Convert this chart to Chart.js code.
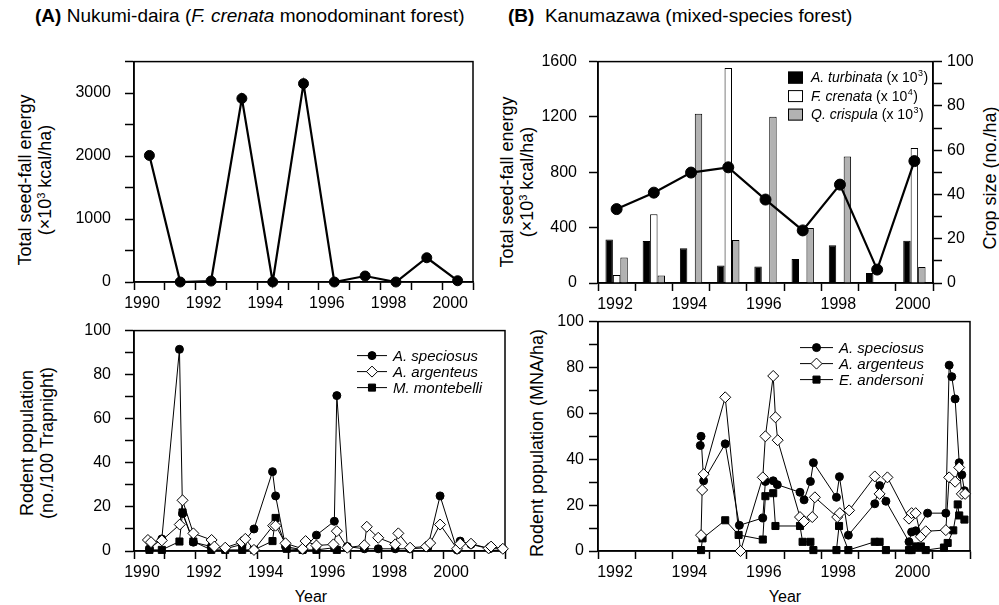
<!DOCTYPE html>
<html>
<head>
<meta charset="utf-8">
<script src="https://cdn.jsdelivr.net/npm/chart.js@4.4.1/dist/chart.umd.min.js"></script>
<style>
  html, body { margin: 0; padding: 0; background: #fff; }
  body { width: 999px; height: 605px; position: relative; overflow: hidden;
         font-family: "Liberation Sans", Arial, Helvetica, sans-serif; color: #000; }
  canvas { position: absolute; }
  .txt { position: absolute; white-space: nowrap; font-size: 17px; line-height: 20px; }
  .rot { position: absolute; transform: rotate(-90deg); text-align: center;
         font-size: 18px; line-height: 20px; white-space: nowrap; }
  sup { font-size: 11px; line-height: 0; vertical-align: 0; position: relative; top: -6px; }
</style>
</head>
<body>
<div class="txt" style="left:35px;top:6px;font-size:19px"><b>(A)</b> Nukumi-daira (<i>F. crenata</i> monodominant forest)</div>
<div class="txt" style="left:508px;top:6px;font-size:19px"><b>(B)</b>&nbsp; Kanumazawa (mixed-species forest)</div>

<div class="rot" style="left:-95px;top:160px;width:260px;height:40px">Total seed-fall energy<br>(×10<sup>3</sup> kcal/ha)</div>
<div class="rot" style="left:387px;top:162px;width:260px;height:40px">Total seed-fall energy<br>(×10<sup>3</sup> kcal/ha)</div>
<div class="rot" style="left:890px;top:168px;width:200px;height:20px">Crop size (no./ha)</div>
<div class="rot" style="left:-93px;top:423px;width:260px;height:40px">Rodent population<br>(no./100 Trapnight)</div>
<div class="rot" style="left:407px;top:433px;width:260px;height:20px">Rodent population (MNA/ha)</div>
<div class="txt" style="left:281px;top:587px;width:60px;text-align:center;font-size:16px">Year</div>
<div class="txt" style="left:755px;top:587px;width:60px;text-align:center;font-size:16px">Year</div>

<script>
// ---- data ----
// (A) Nukumi-daira, total seed-fall energy (x10^3 kcal/ha), one value per year
const nukumiYears = [1990, 1991, 1992, 1993, 1994, 1995, 1996, 1997, 1998, 1999, 2000];
const nukumiEnergy = [2010, 0, 15, 2915, 0, 3150, 0, 95, 0, 385, 20];

// (B) Kanumazawa
const kanuYears = [1992, 1993, 1994, 1995, 1996, 1997, 1998, 1999, 2000];
const kanuEnergy = [534, 653, 798, 836, 603, 380, 711, 97, 881];
const cropTurbinata = [19.6, 19.0, 15.7, 7.9, 7.5, 10.8, 17.0, 4.5, 19.1];
const cropCrenata = [3.6, 31.1, 0, 97.1, 0, 0, 0, 0, 61.0];
const cropCrispula = [11.5, 3.4, 76.5, 19.4, 75.1, 24.8, 57.1, 0, 7.2];

// rodents, [time (year), value]
const nukumiSpeciosus = [[1990.5, 1], [1990.9, 5.5], [1991.47, 91.5], [1991.57, 17], [1991.92, 4],
  [1992.5, 2], [1992.95, 1], [1993.5, 3], [1993.88, 10], [1994.48, 36], [1994.58, 25], [1994.9, 2],
  [1995.47, 0.5], [1995.9, 7.2], [1996.48, 13.5], [1996.56, 70.5], [1996.9, 2], [1997.45, 1],
  [1997.9, 1], [1998.45, 1], [1998.92, 1], [1999.5, 1.5], [1999.9, 25], [2000.45, 0.5],
  [2000.55, 4.5], [2000.9, 3], [2001.5, 1], [2001.93, 1]];
const nukumiArgenteus = [[1990.45, 5], [1990.55, 4], [1990.9, 4.8], [1991.48, 12], [1991.57, 23],
  [1991.92, 8], [1992.51, 5], [1992.6, 2], [1992.95, 1.5], [1993.48, 4], [1993.6, 5.5], [1993.88, 0.5],
  [1994.5, 11.5], [1994.58, 11.5], [1994.9, 3.5], [1995.45, 1], [1995.55, 4.5], [1995.9, 2.5],
  [1996.45, 3], [1996.56, 9], [1996.9, 1.5], [1997.45, 2.6], [1997.53, 11], [1997.9, 6],
  [1998.45, 3], [1998.55, 8], [1998.93, 1.5], [1999.45, 2], [1999.58, 3.6], [1999.9, 12],
  [2000.45, 1], [2000.55, 3.3], [2000.9, 3.3], [2001.47, 1.2], [2001.55, 2], [2001.93, 1]];
const nukumiMontebelli = [[1990.5, 0.5], [1990.9, 0.5], [1991.47, 4.3], [1991.57, 17.5], [1991.92, 4.3],
  [1992.5, 0.5], [1992.95, 0.5], [1993.5, 0.5], [1993.88, 0.5], [1994.48, 4.5], [1994.58, 15],
  [1994.94, 1], [1995.45, 0.5], [1995.9, 0.5], [1996.48, 1.5], [1996.56, 0.5]];

const kanuSpeciosus = [[1994.75, 46], [1994.77, 50], [1994.84, 30.6], [1995.42, 46.7], [1995.8, 11.2],
  [1996.43, 14.4], [1996.5, 30.3], [1996.71, 30.6], [1996.82, 28.9], [1997.43, 25.6], [1997.54, 22.3],
  [1997.71, 30.3], [1997.79, 38.5], [1998.41, 23.4], [1998.49, 32.4], [1998.73, 6.9], [1999.44, 20.6],
  [1999.57, 28.5], [1999.74, 21.7], [2000.36, 4], [2000.43, 8.3], [2000.54, 8.8], [2000.86, 16.5],
  [2001.35, 16.5], [2001.44, 81], [2001.51, 76], [2001.6, 66.3], [2001.71, 38.5], [2001.78, 33.2],
  [2001.85, 26.3]];
const kanuArgenteus = [[1994.77, 6.9], [1994.8, 26.6], [1994.84, 33.5], [1995.42, 67], [1995.83, 0],
  [1996.43, 32.1], [1996.5, 50], [1996.71, 76.3], [1996.77, 58.3], [1996.83, 48.3], [1997.43, 14.8],
  [1997.54, 12.9], [1997.76, 14.8], [1997.83, 23.4], [1998.43, 14.8], [1998.5, 16.5], [1998.75, 17.7],
  [1999.44, 32.5], [1999.57, 24.9], [1999.78, 32.1], [2000.36, 14.1], [2000.43, 16.5], [2000.54, 16.5],
  [2000.68, 6.2], [2000.81, 8.6], [2001.35, 9.1], [2001.44, 32.1], [2001.6, 30.2], [2001.71, 36.4],
  [2001.78, 24.9], [2001.87, 24.9]];
const kanuAndersoni = [[1994.77, 0.4], [1994.81, 5.5], [1995.42, 13.4], [1995.78, 7], [1996.43, 5],
  [1996.5, 23.9], [1996.71, 25.2], [1996.77, 10.9], [1997.43, 10.9], [1997.5, 4], [1997.71, 4],
  [1997.79, 0.4], [1998.41, 0.4], [1998.48, 10.9], [1998.73, 0.4], [1999.44, 4], [1999.57, 4],
  [1999.74, 0.4], [2000.36, 0.4], [2000.43, 0.4], [2000.54, 2], [2000.68, 2], [2000.81, 0.4],
  [2001.3, 1.5], [2001.4, 3.5], [2001.55, 9], [2001.67, 20.3], [2001.71, 15.5], [2001.85, 13.7]];

// ---- layout ----
const PAD_L = 90, PAD_T = 12, PAD_B = 40;
const FONT = '"Liberation Sans", Arial, Helvetica, sans-serif';

Chart.defaults.font.family = FONT;
Chart.defaults.font.size = 16;
Chart.defaults.color = '#000';
Chart.defaults.animation = false;
Chart.defaults.plugins.legend.display = false;
Chart.defaults.plugins.tooltip.enabled = false;

function makeCanvas(box, rightW) {
  const c = document.createElement('canvas');
  const w = box.r - box.l + PAD_L + rightW, h = box.b - box.t + PAD_T + PAD_B;
  c.width = w; c.height = h;
  c.style.width = w + 'px'; c.style.height = h + 'px';
  c.style.left = (box.l - PAD_L) + 'px';
  c.style.top = (box.t - PAD_T) + 'px';
  document.body.appendChild(c);
  return c;
}

function xAxis(min, max, labelOffset) {
  return {
    type: 'linear', min, max, offset: false,
    afterFit: s => { s.height = PAD_B; },
    border: { color: '#000', width: 1.5 },
    grid: { drawOnChartArea: false, tickLength: 8, tickWidth: 1.5, tickColor: '#000', offset: false },
    ticks: { stepSize: 1, autoSkip: false, maxRotation: 0, padding: 4, labelOffset,
      callback: v => (v % 2 === 0 && v <= 2000 ? String(v) : '') }
  };
}

function yAxis(max, step, every, padding, width, position) {
  return {
    type: 'linear', position: position || 'left', min: 0, max,
    afterFit: s => { s.width = width; },
    border: { color: '#000', width: 1.5 },
    grid: { drawOnChartArea: false, tickLength: 9, tickWidth: 1.5, tickColor: '#000' },
    ticks: { stepSize: step, autoSkip: false, padding,
      callback: v => (v % every === 0 ? String(v) : '') }
  };
}

function series(label, pts, style, r, fill, order, width) {
  return {
    label, data: pts.map(p => ({ x: p[0], y: p[1] })),
    borderColor: '#000', borderWidth: width || 1, tension: 0,
    pointStyle: style, pointRadius: r, pointBorderWidth: 1,
    pointBackgroundColor: fill, pointBorderColor: '#000', order, clip: false
  };
}

// box around the plot area
Chart.register({
  id: 'frame',
  beforeDatasetsDraw(chart) {
    const { ctx, chartArea: a } = chart;
    ctx.save();
    ctx.strokeStyle = '#000';
    ctx.lineWidth = 1.5;
    ctx.strokeRect(a.left, a.top, a.right - a.left, a.bottom - a.top);
    ctx.restore();
  }
});

function marker(ctx, style, x, y, r) {
  ctx.beginPath();
  if (style === 'circle') ctx.arc(x, y, r, 0, Math.PI * 2);
  else if (style === 'rectRot') { ctx.moveTo(x - r, y); ctx.lineTo(x, y - r); ctx.lineTo(x + r, y); ctx.lineTo(x, y + r); ctx.closePath(); }
  else { const s = r * Math.SQRT1_2; ctx.rect(x - s, y - s, 2 * s, 2 * s); }
  ctx.fill();
  ctx.stroke();
}

// legend: short line with marker and italic name
function lineLegend(x0, y0, dy, len) {
  return {
    id: 'lineLegend',
    afterDraw(chart) {
      const { ctx, chartArea: a } = chart;
      ctx.save();
      chart.data.datasets.forEach((ds, i) => {
        const x = a.left + x0, y = a.top + y0 + i * dy;
        ctx.strokeStyle = '#000'; ctx.lineWidth = 1;
        ctx.beginPath(); ctx.moveTo(x, y); ctx.lineTo(x + len, y); ctx.stroke();
        ctx.fillStyle = ds.pointBackgroundColor;
        marker(ctx, ds.pointStyle, x + len / 2, y, ds.pointRadius);
        ctx.fillStyle = '#000';
        ctx.font = 'italic 15px ' + FONT;
        ctx.textBaseline = 'middle';
        ctx.fillText(ds.label, x + len + 6, y + 1);
      });
      ctx.restore();
    }
  };
}

// legend: boxes for the bar series, "name (x10^n)"
function barLegend(x0, y0, dy) {
  return {
    id: 'barLegend',
    afterDraw(chart) {
      const { ctx, chartArea: a } = chart;
      ctx.save();
      chart.data.datasets.filter(ds => ds.type === 'bar').forEach((ds, i) => {
        const x = a.left + x0, y = a.top + y0 + i * dy;
        ctx.fillStyle = ds.backgroundColor; ctx.strokeStyle = '#000'; ctx.lineWidth = 1;
        ctx.fillRect(x, y - 6, 15, 12); ctx.strokeRect(x + 0.5, y - 5.5, 14, 11);
        ctx.fillStyle = '#000';
        ctx.textBaseline = 'middle';
        let tx = x + 23;
        ctx.font = 'italic 14px ' + FONT;
        ctx.fillText(ds.label, tx, y + 1); tx += ctx.measureText(ds.label).width;
        ctx.font = '14px ' + FONT;
        ctx.fillText(' (x 10', tx, y + 1); tx += ctx.measureText(' (x 10').width;
        ctx.font = '9px ' + FONT;
        ctx.fillText(ds.power, tx + 0.5, y - 4); tx += ctx.measureText(ds.power).width + 1;
        ctx.font = '14px ' + FONT;
        ctx.fillText(')', tx, y + 1);
      });
      ctx.restore();
    }
  };
}

// ---- (A) top: seed-fall energy ----
const boxTL = { l: 134, t: 50, r: 473, b: 282 };
new Chart(makeCanvas(boxTL, 20), {
  type: 'line',
  data: { datasets: [series('energy', nukumiYears.map((yr, i) => [yr + 0.5, nukumiEnergy[i]]), 'circle', 5, '#000', 0, 2.2)] },
  options: {
    responsive: false,
    layout: { padding: { left: 0, top: PAD_T, right: 20, bottom: 0 } },
    scales: { x: xAxis(1990, 2001, 8), y: yAxis(3500, 500, 1000, 14, PAD_L) }
  }
});

// ---- (B) top: seed-fall energy + crop size bars ----
const boxTR = { l: 598, t: 52, r: 933, b: 283 };
const mid = kanuYears.map(yr => yr + 0.5);
const bar = (label, vals, color, power) => ({
  type: 'bar', label, power, yAxisID: 'y2', order: 1,
  data: vals.map((v, i) => ({ x: mid[i], y: v })),
  backgroundColor: color, borderColor: '#000', borderWidth: 1,
  categoryPercentage: 0.6, barPercentage: 1
});
new Chart(makeCanvas(boxTR, 66), {
  type: 'bar',
  data: {
    datasets: [
      Object.assign(series('energy', mid.map((x, i) => [x, kanuEnergy[i]]), 'circle', 5.5, '#000', 0, 2.2), { type: 'line', yAxisID: 'y' }),
      bar('A. turbinata', cropTurbinata, '#000', '3'),
      bar('F. crenata', cropCrenata, '#fff', '4'),
      bar('Q. crispula', cropCrispula, '#b2b2b2', '3')
    ]
  },
  options: {
    responsive: false,
    layout: { padding: { left: 0, top: PAD_T, right: 0, bottom: 0 } },
    scales: {
      x: xAxis(1992, 2001, 17),
      y: yAxis(1600, 400, 400, 12, PAD_L),
      y2: yAxis(100, 10, 20, 5, 66, 'right')
    }
  },
  plugins: [barLegend(190, 16, 18.5)]
});

// ---- (A) bottom: rodents ----
const boxBL = { l: 134, t: 319, r: 505, b: 551 };
new Chart(makeCanvas(boxBL, 20), {
  type: 'line',
  data: {
    datasets: [
      series('A. speciosus', nukumiSpeciosus, 'circle', 4, '#000', 1),
      series('A. argenteus', nukumiArgenteus, 'rectRot', 5.5, '#fff', 0),
      series('M. montebelli', nukumiMontebelli, 'rect', 5, '#000', 2)
    ]
  },
  options: {
    responsive: false,
    layout: { padding: { left: 0, top: PAD_T, right: 20, bottom: 0 } },
    scales: { x: xAxis(1990, 2002, 8), y: yAxis(100, 10, 20, 14, PAD_L) }
  },
  plugins: [lineLegend(223, 25, 16, 30)]
});

// ---- (B) bottom: rodents ----
const boxBR = { l: 598, t: 319, r: 970, b: 551 };
new Chart(makeCanvas(boxBR, 20), {
  type: 'line',
  data: {
    datasets: [
      series('A. speciosus', kanuSpeciosus, 'circle', 4, '#000', 1),
      series('A. argenteus', kanuArgenteus, 'rectRot', 5.5, '#fff', 0),
      series('E. andersoni', kanuAndersoni, 'rect', 5, '#000', 2)
    ]
  },
  options: {
    responsive: false,
    layout: { padding: { left: 0, top: PAD_T, right: 20, bottom: 0 } },
    scales: { x: xAxis(1992, 2002, 17), y: yAxis(100, 10, 20, 5, PAD_L) }
  },
  plugins: [lineLegend(202, 26, 16, 33)]
});
</script>
</body>
</html>
